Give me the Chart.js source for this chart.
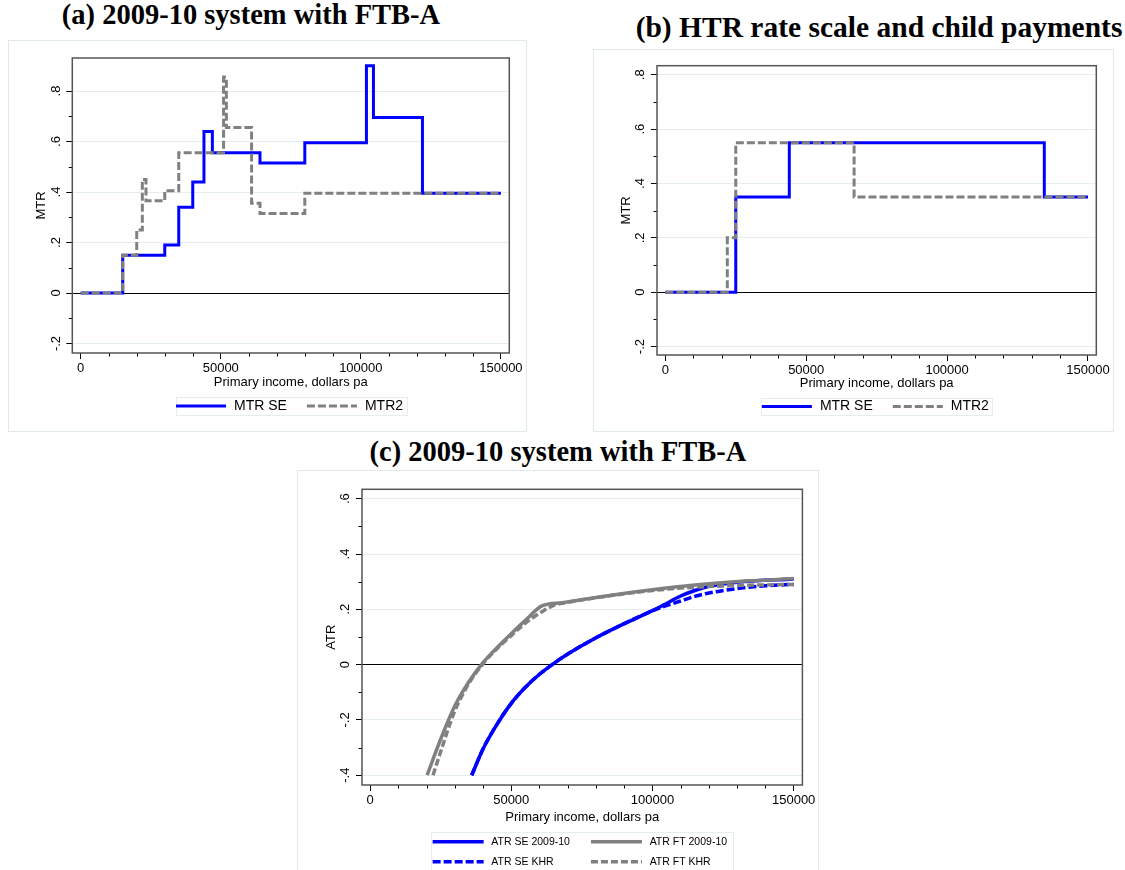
<!DOCTYPE html>
<html>
<head>
<meta charset="utf-8">
<script src="https://cdn.jsdelivr.net/npm/chart.js@4.4.0/dist/chart.umd.min.js"></script>
<style>
  html, body { margin: 0; padding: 0; background: #fff; width: 1125px; height: 870px; overflow: hidden; position: relative; }
  .title { position: absolute; font-family: "Liberation Serif", "Times New Roman", serif; font-weight: bold; font-size: 28.5px; line-height: 30px; white-space: nowrap; transform: translateX(-50%); color: #000; }
  canvas { position: absolute; }
</style>
</head>
<body>
<div class="title" style="left:251px; top:0px;">(a) 2009-10 system with FTB-A</div>
<div class="title" style="left:879px; top:12px; font-size:29.5px;">(b) HTR rate scale and child payments</div>
<div class="title" style="left:558px; top:437px;">(c) 2009-10 system with FTB-A</div>
<canvas id="chartA" width="519" height="392" style="left:8px; top:40px;"></canvas>
<canvas id="chartB" width="521" height="383" style="left:593px; top:49px;"></canvas>
<canvas id="chartC" width="522" height="410" style="left:297px; top:470px;"></canvas>
<script>
// axis ticks
const incomeTicks = [0, 50000, 100000, 150000];
const mtrTicks = [-0.2, 0, 0.2, 0.4, 0.6, 0.8];
const atrTicks = [-0.4, -0.2, 0, 0.2, 0.4, 0.6];

// (a) marginal rates, 2009-10 system: each rate holds from its income point to the next
const mtrSeIncome = [0, 15000, 30000, 35000, 40000, 44000, 47000, 64000, 80000, 102000, 104500, 122000, 150000];
const mtrSeRate   = [0, 0.15, 0.19, 0.34, 0.44, 0.64, 0.555, 0.515, 0.595, 0.90, 0.695, 0.395, 0.395];
const mtr2Income  = [0, 15000, 20000, 22000, 23300, 30000, 35000, 51000, 52000, 61000, 64000, 80000, 150000];
const mtr2Rate    = [0, 0.15, 0.25, 0.45, 0.365, 0.405, 0.555, 0.855, 0.655, 0.355, 0.315, 0.395, 0.395];

// (b) HTR rate scale and child payments
const htrSeIncome = [0, 25000, 44000, 134500, 150000];
const htrSeRate   = [0, 0.35, 0.55, 0.35, 0.35];
const htr2Income  = [0, 22000, 25000, 67000, 150000];
const htr2Rate    = [0, 0.2, 0.55, 0.35, 0.35];

// (c) average tax rates
const atrSeIncome    = [36000, 40000, 45000, 50000, 55000, 60000, 64500, 70000, 80000, 90000, 100000, 104000, 110000, 115000, 120000, 130000, 150000];
const atrSeRate      = [-0.40, -0.305, -0.215, -0.14, -0.082, -0.035, 0.0, 0.038, 0.097, 0.148, 0.195, 0.216, 0.248, 0.268, 0.283, 0.298, 0.31];
const atrFtIncome    = [20200, 25000, 30000, 35000, 40000, 45000, 50000, 55000, 61000, 68000, 80000, 100000, 115000, 133000, 150000];
const atrFtRate      = [-0.40, -0.27, -0.15, -0.062, 0.007, 0.062, 0.112, 0.160, 0.213, 0.224, 0.243, 0.271, 0.288, 0.302, 0.311];
const atrSeKhrIncome = [36000, 40000, 45000, 50000, 55000, 60000, 64500, 70000, 80000, 90000, 100000, 110000, 115000, 120000, 130000, 140000, 150000];
const atrSeKhrRate   = [-0.40, -0.305, -0.215, -0.14, -0.082, -0.035, 0.0, 0.038, 0.097, 0.148, 0.195, 0.23, 0.247, 0.259, 0.275, 0.285, 0.29];
const atrFtKhrIncome = [22300, 25000, 30000, 35000, 40000, 45000, 50000, 55000, 61000, 65000, 70000, 80000, 100000, 115000, 130000, 150000];
const atrFtKhrRate   = [-0.40, -0.315, -0.168, -0.068, 0.003, 0.058, 0.105, 0.15, 0.192, 0.214, 0.225, 0.242, 0.268, 0.28, 0.286, 0.29];

const BLUE = '#0000ff';
const GREY = '#808080';
const SANS = '"Liberation Sans", Arial, sans-serif';

function toPoints(xs, ys) {
    return xs.map((x, i) => ({ x: x, y: ys[i] }));
}

// Stata style labels: .8, -.2, 0
function rateLabel(v) {
    if (Math.abs(v) < 1e-9) return '0';
    return String(Math.round(v * 10) / 10).replace(/^(-?)0\./, '$1.');
}

// white background, outer box, minor ticks, plot frame and the legend
const stataDecor = {
    id: 'stataDecor',
    beforeDraw(chart) {
        const { ctx, width, height } = chart;
        ctx.save();
        ctx.fillStyle = '#fff';
        ctx.fillRect(0, 0, width, height);
        ctx.strokeStyle = '#dfe9eb';
        ctx.lineWidth = 1;
        ctx.strokeRect(0.5, 0.5, width - 1, height - 1);
        ctx.restore();
    },
    afterDraw(chart, args, opts) {
        const { ctx, chartArea: a, scales } = chart;
        ctx.save();

        // minor ticks: four per income interval, one per rate interval
        ctx.strokeStyle = '#000';
        ctx.lineWidth = 1;
        ctx.beginPath();
        for (let i = 0; i < incomeTicks.length - 1; i++) {
            const step = (incomeTicks[i + 1] - incomeTicks[i]) / 5;
            for (let k = 1; k < 5; k++) {
                const px = Math.round(scales.x.getPixelForValue(incomeTicks[i] + k * step)) + 0.5;
                ctx.moveTo(px, a.bottom);
                ctx.lineTo(px, a.bottom + 3.5);
            }
        }
        const yt = opts.yTicks;
        for (let i = 0; i < yt.length - 1; i++) {
            const py = Math.round(scales.y.getPixelForValue((yt[i] + yt[i + 1]) / 2)) + 0.5;
            ctx.moveTo(a.left, py);
            ctx.lineTo(a.left - 3.5, py);
        }
        ctx.stroke();

        // plot region frame
        ctx.strokeStyle = '#555';
        ctx.lineWidth = 1.5;
        ctx.strokeRect(a.left, a.top, a.right - a.left, a.bottom - a.top);

        // legend
        const lg = opts.legend;
        ctx.font = lg.fontSize + 'px ' + SANS;
        const items = chart.data.datasets.map(d => ({
            label: d.label, color: d.borderColor, dash: d.borderDash || [], width: d.borderWidth
        }));
        const colW = [];
        items.forEach((it, i) => {
            const c = i % lg.columns;
            const w = lg.lineLen + lg.gap + ctx.measureText(it.label).width;
            colW[c] = Math.max(colW[c] || 0, w);
        });
        const total = lg.padL + colW.reduce((s, w) => s + w, 0) + lg.colGap * (lg.columns - 1) + lg.padR;
        const left = (a.left + a.right) / 2 - total / 2;
        ctx.strokeStyle = '#e4edef';
        ctx.lineWidth = 1;
        ctx.strokeRect(Math.round(left) + 0.5, Math.round(lg.top) + 0.5, Math.round(total), Math.round(lg.boxHeight));
        items.forEach((it, i) => {
            const c = i % lg.columns;
            const r = Math.floor(i / lg.columns);
            let x = left + lg.padL;
            for (let k = 0; k < c; k++) x += colW[k] + lg.colGap;
            const y = lg.firstRow + r * lg.rowGap;
            ctx.beginPath();
            ctx.setLineDash(it.dash);
            ctx.strokeStyle = it.color;
            ctx.lineWidth = it.width;
            ctx.moveTo(x, y);
            ctx.lineTo(x + lg.lineLen, y);
            ctx.stroke();
            ctx.setLineDash([]);
            ctx.fillStyle = '#000';
            ctx.textBaseline = 'middle';
            ctx.textAlign = 'left';
            ctx.fillText(it.label, x + lg.lineLen + lg.gap, y);
        });
        ctx.restore();
    }
};

function makeChart(id, cfg) {
    return new Chart(document.getElementById(id), {
        type: 'line',
        data: { datasets: cfg.datasets },
        options: {
            responsive: false,
            animation: false,
            devicePixelRatio: 1,
            layout: { padding: cfg.padding },
            elements: { point: { radius: 0 } },
            plugins: {
                legend: { display: false },
                tooltip: { enabled: false },
                stataDecor: { yTicks: cfg.yTicks, legend: cfg.legend }
            },
            scales: {
                x: {
                    type: 'linear',
                    min: cfg.xMin,
                    max: cfg.xMax,
                    afterFit: s => { s.height = cfg.xHeight; },
                    afterBuildTicks: s => { s.ticks = incomeTicks.map(v => ({ value: v })); },
                    border: { display: false },
                    grid: { drawOnChartArea: false, tickLength: 6, tickColor: '#000', tickWidth: 1 },
                    ticks: {
                        autoSkip: false, maxRotation: 0, padding: 2, color: '#000',
                        font: { family: SANS, size: 13 },
                        callback: v => String(v)
                    },
                    title: {
                        display: true, text: 'Primary income, dollars pa', color: '#000',
                        font: { family: SANS, size: 13 }, padding: { top: 0, bottom: 1 }
                    }
                },
                y: {
                    type: 'linear',
                    min: cfg.yMin,
                    max: cfg.yMax,
                    afterFit: s => { s.width = cfg.yWidth; },
                    afterBuildTicks: s => { s.ticks = cfg.yTicks.map(v => ({ value: v })); },
                    border: { display: false },
                    grid: {
                        color: c => (c.tick && Math.abs(c.tick.value) < 1e-9) ? '#000' : '#e4edef',
                        lineWidth: 1, tickLength: 6, tickColor: '#000', tickWidth: 1
                    },
                    ticks: {
                        autoSkip: false, minRotation: 90, maxRotation: 90, crossAlign: 'center',
                        padding: 2.5, color: '#000', font: { family: SANS, size: 13 },
                        callback: v => rateLabel(v)
                    },
                    title: {
                        display: true, text: cfg.yTitle, color: '#000',
                        font: { family: SANS, size: 13 }, padding: { top: cfg.yTitlePad, bottom: 0 }
                    }
                }
            }
        },
        plugins: [stataDecor]
    });
}

const stepLine = (label, xs, ys, color, dash, order) => ({
    label: label, data: toPoints(xs, ys), borderColor: color, borderWidth: 3,
    borderDash: dash, stepped: true, fill: false, order: order
});

const curve = (label, xs, ys, color, dash, order) => ({
    label: label, data: toPoints(xs, ys), borderColor: color, borderWidth: 3.5,
    borderDash: dash, cubicInterpolationMode: 'monotone', fill: false, order: order
});

const twoItemLegend = { columns: 2, fontSize: 14, lineLen: 50, gap: 8, colGap: 20, padL: 0.5, padR: 3, rowGap: 0 };

makeChart('chartA', {
    datasets: [
        stepLine('MTR SE', mtrSeIncome, mtrSeRate, BLUE, [], 2),
        stepLine('MTR2', mtr2Income, mtr2Rate, GREY, [8, 3], 1)
    ],
    padding: { left: 0, top: 18, right: 17.7, bottom: 40.5 },
    xMin: -3000, xMax: 153000, xHeight: 38.5,
    yMin: -0.2376, yMax: 0.9307, yWidth: 64.3, yTicks: mtrTicks,
    yTitle: 'MTR', yTitlePad: 26,
    legend: Object.assign({}, twoItemLegend, { top: 356.7, boxHeight: 17.6, firstRow: 366 })
});

makeChart('chartB', {
    datasets: [
        stepLine('MTR SE', htrSeIncome, htrSeRate, BLUE, [], 2),
        stepLine('MTR2', htr2Income, htr2Rate, GREY, [8, 3], 1)
    ],
    padding: { left: 0, top: 16.7, right: 17.7, bottom: 39.8 },
    xMin: -2950, xMax: 152950, xHeight: 37.2,
    yMin: -0.231, yMax: 0.8335, yWidth: 64, yTicks: mtrTicks,
    yTitle: 'MTR', yTitlePad: 26,
    legend: Object.assign({}, twoItemLegend, { top: 349.1, boxHeight: 16.6, firstRow: 357.5 })
});

makeChart('chartC', {
    datasets: [
        curve('ATR SE 2009-10', atrSeIncome, atrSeRate, BLUE, [], 4),
        curve('ATR FT 2009-10', atrFtIncome, atrFtRate, GREY, [], 2),
        curve('ATR SE KHR', atrSeKhrIncome, atrSeKhrRate, BLUE, [8, 3], 3),
        curve('ATR FT KHR', atrFtKhrIncome, atrFtKhrRate, GREY, [7, 3], 1)
    ],
    padding: { left: 0, top: 19.3, right: 16.6, bottom: 54.2 },
    xMin: -2850, xMax: 153100, xHeight: 40.8,
    yMin: -0.4354, yMax: 0.634, yWidth: 65, yTicks: atrTicks,
    yTitle: 'ATR', yTitlePad: 26.7,
    legend: { columns: 2, fontSize: 10.5, lineLen: 51, gap: 7.7, colGap: 21, padL: 1.3, padR: 6, rowGap: 20,
              top: 362.3, boxHeight: 60, firstRow: 371.7 }
});
</script>
</body>
</html>
